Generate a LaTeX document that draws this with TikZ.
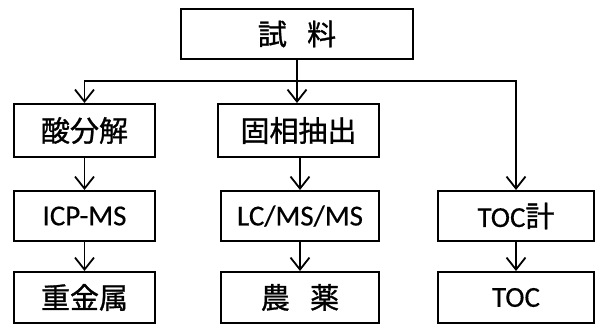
\documentclass[tikz,border=0pt]{standalone}
\usepackage{fontspec}
\setmainfont[FakeBold=0.4]{Carlito}
\newfontfamily\jp[FakeBold=1]{Noto Sans CJK JP}
\usetikzlibrary{arrows.meta}
\begin{document}
\begin{tikzpicture}[x=1pt,y=-1pt,
  box/.style={draw=black, line width=2pt, fill=white, inner sep=0pt,
    font=\fontsize{29}{34}\selectfont},
  conn/.style={draw=black, line width=1.8pt},
  arr/.style={conn, -{Straight Barb[length=12pt,width=19pt]}}]
\useasboundingbox (0,0) rectangle (596,325);
\node[box, minimum width=232pt, minimum height=50pt] (top) at (297,34) {\jp 試\hspace{0.7em}料};
\node[box, minimum width=141pt, minimum height=53pt] (acid) at (84.5,130.5) {\jp 酸分解};
\node[box, minimum width=161pt, minimum height=53pt] (solid) at (298.5,130.5) {\jp 固相抽出};
\node[box, minimum width=141pt, minimum height=50pt] (icp) at (84.5,216) {ICP-MS};
\node[box, minimum width=158pt, minimum height=50pt] (lc) at (300,216) {LC/MS/MS};
\node[box, minimum width=156pt, minimum height=50pt] (tocm) at (516,216) {TOC{\jp 計}};
\node[box, minimum width=141pt, minimum height=51pt] (metal) at (84.5,297.5) {\jp 重金属};
\node[box, minimum width=158pt, minimum height=51pt] (pest) at (300,297.5) {\jp 農\hspace{0.7em}薬};
\node[box, minimum width=156pt, minimum height=51pt] (toc) at (516,297.5) {TOC};
\coordinate (j) at (297,81);
\draw[conn] (top.south) -- (j);
\draw[arr] (j) -| (acid.north);
\draw[arr] (j) -| (tocm.north);
\draw[arr] (j) -- (j |- solid.north);
\draw[arr] (acid.south) -- (icp.north);
\draw[arr] (solid.south -| lc.north) -- (lc.north);
\draw[arr] (icp.south) -- (metal.north);
\draw[arr] (lc.south) -- (pest.north);
\draw[arr] (tocm.south) -- (toc.north);
\end{tikzpicture}
\end{document}
